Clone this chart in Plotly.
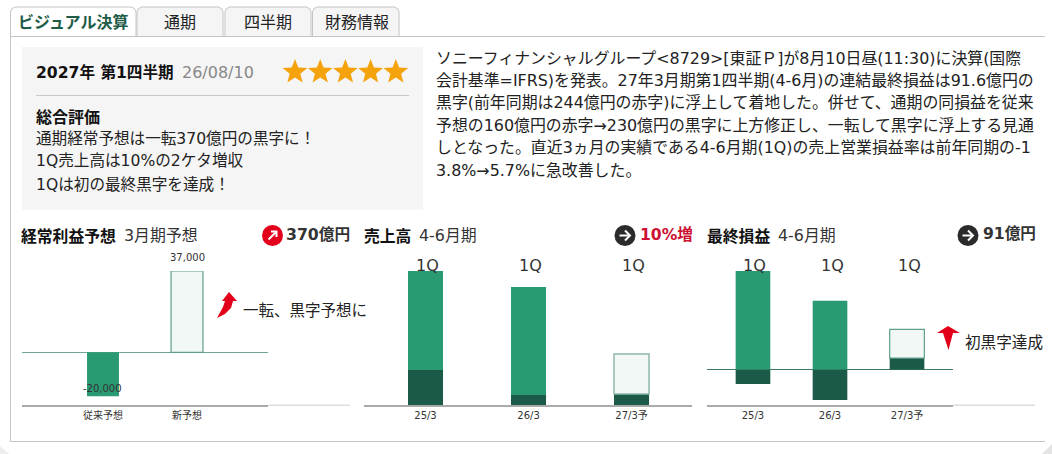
import math
import plotly.graph_objects as go

W, H = 1052, 454
FONT = "DejaVu Sans, Noto Sans CJK JP, sans-serif"
JP = "Noto Sans CJK JP, sans-serif"
GREEN, DARK, PALE, EDGE = "#2a9a73", "#1b5a48", "#f1f8f6", "#5f9e8c"

# ---- data ----
forecast_labels = ["従来予想", "新予想"]
forecast_values = [-20000, 37000]

periods_sales = ["25/3", "26/3", "27/3予"]
sales_q1 = [3500, 1000, 1100]
sales_rest = [9900, 10800, 4000]

periods_profit = ["25/3", "26/3", "27/3予"]
profit_q1 = [-116, -244, 91.6]
profit_rest = [788, 550, 230]

quarter_label = "1Q"

para_lines = [
    "ソニーフィナンシャルグループ<8729>[東証Ｐ]が8月10日昼(11:30)に決算(国際",
    "会計基準=IFRS)を発表。27年3月期第1四半期(4-6月)の連結最終損益は91.6億円の",
    "黒字(前年同期は244億円の赤字)に浮上して着地した。併せて、通期の同損益を従来",
    "予想の160億円の赤字→230億円の黒字に上方修正し、一転して黒字に浮上する見通",
    "しとなった。直近3ヵ月の実績である4-6月期(1Q)の売上営業損益率は前年同期の-1",
    "3.8%→5.7%に急改善した。",
]
summary_lines = ["通期経常予想は一転370億円の黒字に！", "1Q売上高は10%の2ケタ増収", "1Qは初の最終黒字を達成！"]
tab_labels = ["通期", "四半期", "財務情報"]


def px(x):
    return x / W


def py(y):
    return 1 - y / H


def P(pts, close=True):
    s = "M" + " L".join(f"{px(x):.5f},{py(y):.5f}" for x, y in pts)
    return s + (" Z" if close else "")


shapes, notes = [], []


def rect(x0, y0, x1, y1, fill, line=None, lw=1):
    shapes.append(dict(type="rect", xref="paper", yref="paper", x0=px(x0), x1=px(x1), y0=py(y0), y1=py(y1),
                       fillcolor=fill, line=dict(color=line or fill, width=lw if line else 0), layer="below"))


def seg(x0, y0, x1, y1, color, lw=1):
    shapes.append(dict(type="line", xref="paper", yref="paper", x0=px(x0), x1=px(x1), y0=py(y0), y1=py(y1),
                       line=dict(color=color, width=lw), layer="below"))


def poly(pts, fill, line=None, lw=0, close=True):
    shapes.append(dict(type="path", xref="paper", yref="paper", path=P(pts, close), fillcolor=fill if close else "rgba(0,0,0,0)",
                       line=dict(color=line or fill, width=lw), layer="above"))


def circle(cx, cy, r, fill):
    shapes.append(dict(type="circle", xref="paper", yref="paper", x0=px(cx - r), x1=px(cx + r), y0=py(cy - r), y1=py(cy + r),
                       fillcolor=fill, line=dict(width=0), layer="above"))


def text(x, y, s, size=16, color="#222", anchor="left", font=FONT):
    notes.append(dict(xref="paper", yref="paper", x=px(x), y=py(y), text=s, showarrow=False, xanchor=anchor, yanchor="middle",
                      font=dict(size=size, color=color, family=font), borderpad=0, borderwidth=0))


# ---- frame ----
seg(10.5, 36.5, 10.5, 441.5, "#c4c4c4")
seg(10.5, 441.5, 1045, 441.5, "#c4c4c4")
seg(136, 36.5, 1045, 36.5, "#c4c4c4")
poly([(0, 446), (9, 454), (0, 454)], "#eeeeee")
poly([(1052, 444), (1052, 454), (1042, 454)], "#e4e4e4")


def tab(x0, x1, fill):
    y0, y1, r = 7, 36.5, 5
    pts = [(x0, y1), (x0, y0 + r), (x0 + 1.5, y0 + 1.5), (x0 + r, y0), (x1 - r, y0), (x1 - 1.5, y0 + 1.5), (x1, y0 + r), (x1, y1)]
    shapes.append(dict(type="path", xref="paper", yref="paper", path=P(pts), fillcolor=fill,
                       line=dict(color="#c4c4c4", width=1), layer="below"))


tab(10.5, 136, "#ffffff")
for (a, b) in [(137, 223), (225, 311), (312.5, 399)]:
    tab(a, b, "#f5f5f5")
text(73, 21.5, "<b>ビジュアル決算</b>", 16, "#1e5c48", "center", JP)
for cx, lab in zip([180, 268, 357], tab_labels):
    text(cx, 21.5, lab, 16, "#222", "center", JP)

# ---- summary panel ----
rect(22, 47, 423, 209.5, "#f5f5f5")
seg(36, 95.5, 409, 95.5, "#c8c8c8")
text(36, 72, "<b>2027年 第1四半期</b>", 15.6, "#111")
text(182, 72, "26/08/10", 16, "#888")
for i in range(5):
    cx, cy = 295 + i * 25.2, 72
    star = []
    for k in range(10):
        r = 13 if k % 2 == 0 else 5.6
        a = -math.pi / 2 + k * math.pi / 5
        star.append((cx + r * math.cos(a), cy + r * math.sin(a)))
    poly(star, "#f5a30c")
text(36, 116, "<b>総合評価</b>", 16, "#111", "left", JP)
for y, s in zip([139, 161.5, 184.5], summary_lines):
    text(36, y, s, 15.6, "#222", "left", FONT)

# ---- paragraph ----
for y, s in zip([58, 80.3, 102.7, 125, 147.4, 170], para_lines):
    text(436, y, s, 15.9, "#222", "left", FONT)

# ---- headers ----
text(21, 235, "<b>経常利益予想</b>", 15.8, "#111", "left", JP)
text(124, 235, "3月期予想", 15.9, "#333", "left", FONT)
text(286, 234.5, "<b>370億円</b>", 15.7, "#333", "left", FONT)
text(364, 235, "<b>売上高</b>", 15.8, "#111", "left", JP)
text(419, 235, "4-6月期", 15.9, "#333", "left", FONT)
text(640, 234.5, "<b>10%増</b>", 15.6, "#cc1133", "left", FONT)
text(707, 235, "<b>最終損益</b>", 15.8, "#111", "left", JP)
text(778, 235, "4-6月期", 15.9, "#333", "left", FONT)
text(983, 234.5, "<b>91億円</b>", 15.6, "#333", "left", FONT)

# status icons
circle(272.5, 235.5, 10.5, "#e2001a")
poly([(268.5, 239.5), (276, 232)], "#fff", "#fff", 2, close=False)
poly([(271, 231.5), (276.5, 231.5), (276.5, 237)], "#fff", "#fff", 2, close=False)
for cx in (625, 968):
    circle(cx, 235.5, 10.5, "#2b2b2b")
    poly([(cx - 5.5, 235.5), (cx + 5, 235.5)], "#fff", "#fff", 2, close=False)
    poly([(cx, 230.5), (cx + 5, 235.5), (cx, 240.5)], "#fff", "#fff", 2, close=False)

# comment arrows
poly([(217, 318), (223, 307), (225, 301), (222, 301), (229, 292), (237, 301), (233, 301), (231, 308), (225, 314)], "#e2001a")
poly([(937, 333), (948, 326), (960, 333), (953, 333), (948.5, 350), (943, 333)], "#e2001a")
text(243, 311, "一転、黒字予想に", 15.5, "#222", "left", FONT)
text(965, 343, "初黒字達成", 15.6, "#222", "left", FONT)

# extended baselines
seg(268, 405.2, 350, 405.2, "#cccccc", 1)
seg(953, 405.2, 1035, 405.2, "#cccccc", 1)

# ---- charts ----
fig = go.Figure()
fig.add_bar(x=forecast_labels, y=forecast_values, width=0.38, xaxis="x", yaxis="y", showlegend=False,
            marker=dict(color=[GREEN, PALE], line=dict(color=[GREEN, EDGE], width=[0, 1.2])))
fig.add_bar(x=periods_sales, y=sales_q1, width=0.34, xaxis="x2", yaxis="y2", showlegend=False,
            marker=dict(color=DARK, line=dict(width=0)))
fig.add_bar(x=periods_sales, y=sales_rest, width=0.34, xaxis="x2", yaxis="y2", showlegend=False,
            marker=dict(color=[GREEN, GREEN, PALE], line=dict(color=[GREEN, GREEN, "#8fb8ac"], width=[0, 0, 1.5])))
fig.add_bar(x=periods_profit, y=profit_q1, width=0.45, xaxis="x3", yaxis="y3", showlegend=False,
            marker=dict(color=DARK, line=dict(width=0)))
fig.add_bar(x=periods_profit, y=profit_rest, width=0.45, xaxis="x3", yaxis="y3", showlegend=False,
            marker=dict(color=[GREEN, GREEN, PALE], line=dict(color=[GREEN, GREEN, EDGE], width=[0, 0, 1.2])))

# value labels
notes.append(dict(xref="x", yref="y", x=forecast_labels[0], y=forecast_values[0], yshift=8, text=f"{forecast_values[0]:,}",
                  showarrow=False, font=dict(size=10, color="#333", family=FONT), yanchor="middle"))
notes.append(dict(xref="x", yref="y", x=forecast_labels[1], y=forecast_values[1], yshift=14, text=f"{forecast_values[1]:,}",
                  showarrow=False, font=dict(size=10, color="#333", family=FONT), yanchor="middle"))
for axis, cats, shift in (("x2", periods_sales, 2), ("x3", periods_profit, 2)):
    for c in cats:
        notes.append(dict(xref=axis, yref="paper", x=c, y=py(265), xshift=shift, text=quarter_label, showarrow=False,
                          yanchor="middle", font=dict(size=16, color="#333", family=FONT)))

Y_DOM = [py(405), py(271)]


def xa(x0, x1, rng, color, anchor):
    return dict(domain=[px(x0), px(x1)], range=rng, type="category", showline=True, linecolor=color, linewidth=2,
                ticks="", showgrid=False, zeroline=False, tickfont=dict(size=10, color="#333", family=FONT),
                fixedrange=True, anchor=anchor)


def ya(rng, anchor, zero=None):
    return dict(domain=Y_DOM, range=rng, showgrid=False, showticklabels=False, ticks="", showline=False, fixedrange=True,
                zeroline=zero is not None, zerolinecolor=zero, zerolinewidth=1.3, anchor=anchor)


fig.update_layout(
    width=W, height=H, margin=dict(l=0, r=0, t=0, b=0), paper_bgcolor="white", plot_bgcolor="rgba(0,0,0,0)",
    barmode="relative", showlegend=False, shapes=shapes, annotations=notes, font=dict(family=FONT),
    xaxis=xa(22, 268, [-0.964, 1.964], "#aaaaaa", "y"), yaxis=ya([-23981, 37000], "x", "#6fa898"),
    xaxis2=xa(364, 692, [-0.597, 2.587], "#aaaaaa", "y2"), yaxis2=ya([0, 13400], "x2"),
    xaxis3=xa(707, 953, [-0.597, 2.597], "#aaaaaa", "y3"), yaxis3=ya([-284, 788], "x3", "#3b7a6a"),
)

fig.write_html("out.html", post_script="document.body.style.margin='0';document.documentElement.style.overflow='hidden';",
               config=dict(displayModeBar=False))
